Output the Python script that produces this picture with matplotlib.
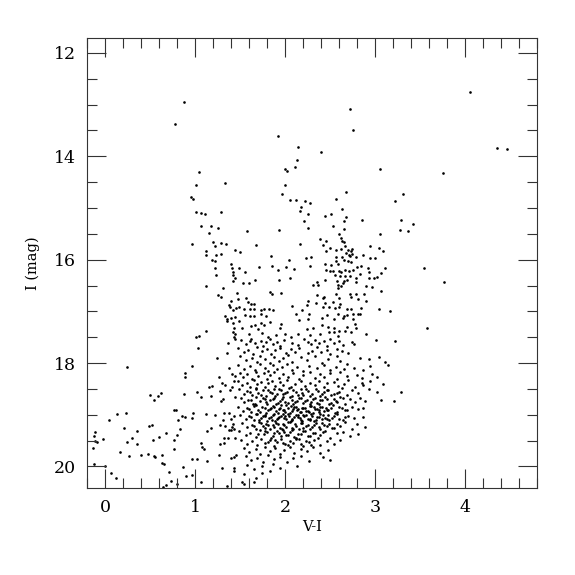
import matplotlib
matplotlib.use("Agg")
import matplotlib.pyplot as plt
from matplotlib.ticker import MultipleLocator
import numpy as np

plt.rcParams['font.family'] = ['DejaVu Serif']

# ---- sparse / bright stars ----
bright_x = [0.874, 0.774, 1.045, 1.004, 1.327, 2.722, 2.756, 1.922, 2.138, 2.393, 2.13, 2.108, 1.993, 2.019,
            3.049, 2.0, 4.056, 4.352, 4.463, 3.756, 3.311, 3.222, 3.289, 3.426, 3.271, 3.367, 3.544, 3.767,
            3.167, 3.574, 3.222, 3.148, 3.282, 3.208]
bright_y = [12.94, 13.38, 14.30, 14.55, 14.52, 13.08, 13.50, 13.61, 13.82, 13.91, 14.07, 14.20, 14.25, 14.28,
            14.25, 14.55, 12.75, 13.83, 13.85, 14.32, 14.73, 14.87, 15.23, 15.31, 15.43, 15.45, 16.17, 16.43,
            16.99, 17.32, 17.57, 18.03, 18.56, 18.74]

# ---- blue branch (x 0.9 - 1.46, I 14.8 - 17.5) ----
blue_x = [0.949, 0.974, 1.008, 1.063, 1.104, 1.286, 1.067, 1.174, 1.256, 1.152, 0.967, 1.2, 1.219, 1.286, 1.345,
          1.437, 1.122, 1.119, 1.233, 1.282, 1.185, 1.219, 1.393, 1.215, 1.404, 1.415, 1.233, 1.422, 1.437, 1.415,
          1.115, 1.304, 1.46, 1.248, 1.286, 1.397, 1.378, 1.382, 1.456, 1.419, 1.333, 1.444, 1.356, 1.4, 1.352,
          1.415, 1.43, 1.419, 1.441, 1.122, 1.037, 1.011, 1.43]
blue_y = [14.79, 14.82, 15.08, 15.09, 15.11, 15.08, 15.34, 15.35, 15.38, 15.48, 15.70, 15.65, 15.74, 15.68, 15.70,
          15.82, 15.83, 15.90, 15.90, 15.89, 16.0, 16.02, 16.08, 16.17, 16.17, 16.23, 16.30, 16.30, 16.35, 16.41,
          16.50, 16.55, 16.64, 16.68, 16.73, 16.79, 16.87, 16.92, 16.93, 16.97, 17.09, 17.10, 17.14, 17.13, 17.19,
          17.23, 17.32, 17.39, 17.44, 17.37, 17.47, 17.50, 17.50]

# ---- giant branch region (x 1.46 - 3.13, I 14.7 - 17.5) ----
giant_x = [1.967, 2.674, 2.052, 2.119, 2.219, 2.271, 2.563, 2.174, 2.167, 2.633, 2.249, 2.504, 2.444, 2.674, 2.652,
           2.856, 2.208, 2.533, 2.256, 1.93, 1.578, 2.652, 2.6, 3.056, 2.386, 2.448, 2.616, 2.633, 2.649, 2.422,
           2.167, 1.674, 2.667, 2.56, 2.5, 2.619, 2.697, 2.744, 2.948, 3.041, 3.082, 1.493, 2.452, 2.73, 2.678,
           2.708, 2.744, 2.722, 2.863, 1.844, 2.563, 2.63, 2.786, 2.941, 2.997, 2.226, 2.282, 2.037, 2.56, 2.649,
           2.697, 2.73, 2.586, 2.504, 2.444, 2.841, 2.8, 2.271, 1.852, 1.711, 1.486, 1.922, 2.093, 2.008, 1.548,
           2.915, 3.104, 2.448, 2.5, 2.533, 2.593, 2.616, 2.667, 2.711, 2.749, 2.926, 3.063, 2.549, 2.611, 2.66,
           2.719, 2.789, 2.83, 2.93, 2.982, 3.022, 1.659, 1.93, 2.056, 2.437, 2.578, 2.649, 2.685, 2.782, 1.533,
           1.593, 2.311, 2.352, 2.363, 2.589, 2.622, 2.641, 2.897, 2.967, 2.582, 3.063, 1.833, 1.848, 1.948, 2.567,
           2.356, 2.719, 2.789, 2.874, 2.433, 2.419, 2.6, 2.73, 2.804, 1.478, 1.559, 2.249, 2.893, 1.589, 1.656,
           1.615, 2.344, 2.444, 2.53, 2.608, 2.241, 2.074, 1.486, 1.544, 1.607, 1.648, 1.733, 1.767, 1.815, 1.863,
           2.182, 2.422, 2.482, 2.552, 2.597, 2.682, 2.73, 2.837, 3.037, 1.733, 2.122, 1.556, 1.607, 1.656, 1.789,
           2.267, 2.467, 2.586, 2.656, 2.689, 2.756, 2.807, 2.833, 2.407, 2.637, 2.152, 2.252, 2.537, 2.752, 1.489,
           1.826, 1.733, 2.771, 1.619, 1.667, 1.767, 1.948, 2.407, 2.478, 2.541, 1.519, 1.697, 1.937, 2.245, 2.311,
           2.689, 2.786, 2.6, 2.66, 2.733, 1.597, 1.737, 1.897, 1.997, 2.138, 2.271, 2.382, 2.486, 2.545, 2.9,
           2.067, 2.582, 1.804]
giant_y = [14.72, 14.69, 14.85, 14.85, 14.86, 14.90, 14.83, 14.99, 15.06, 15.01, 15.12, 15.11, 15.16, 15.18, 15.25,
           15.23, 15.25, 15.34, 15.39, 15.43, 15.45, 15.41, 15.50, 15.51, 15.60, 15.63, 15.58, 15.63, 15.66, 15.71,
           15.70, 15.72, 15.74, 15.81, 15.77, 15.80, 15.81, 15.79, 15.74, 15.78, 15.83, 15.86, 15.84, 15.84, 15.88,
           15.90, 15.89, 15.92, 15.90, 15.92, 15.95, 15.94, 15.94, 15.97, 15.96, 15.96, 15.95, 16.01, 16.03, 16.0,
           16.02, 16.05, 16.08, 16.10, 16.09, 16.12, 16.14, 16.13, 16.13, 16.14, 16.16, 16.20, 16.18, 16.14, 16.23,
           16.17, 16.17, 16.19, 16.21, 16.21, 16.21, 16.23, 16.20, 16.22, 16.19, 16.23, 16.25, 16.30, 16.31, 16.31,
           16.31, 16.35, 16.28, 16.35, 16.35, 16.33, 16.39, 16.40, 16.35, 16.39, 16.41, 16.42, 16.39, 16.43, 16.46,
           16.46, 16.48, 16.44, 16.49, 16.48, 16.50, 16.45, 16.50, 16.52, 16.55, 16.60, 16.63, 16.66, 16.64, 16.67,
           16.68, 16.66, 16.66, 16.66, 16.72, 16.75, 16.74, 16.72, 16.76, 16.76, 16.74, 16.79, 16.79, 16.82, 16.86,
           16.86, 16.84, 16.83, 16.81, 16.86, 16.87, 16.90, 16.92, 16.96, 16.96, 16.96, 16.97, 16.96, 16.96, 16.97,
           16.97, 16.92, 16.92, 16.93, 16.91, 16.95, 16.95, 16.93, 16.96, 17.05, 17.06, 17.07, 17.08, 17.08, 17.08,
           17.05, 17.07, 17.05, 17.08, 17.07, 17.06, 17.06, 17.05, 17.13, 17.13, 17.16, 17.15, 17.15, 17.15, 17.19,
           17.21, 17.23, 17.24, 17.28, 17.26, 17.27, 17.24, 17.26, 17.31, 17.33, 17.32, 17.34, 17.32, 17.35, 17.33,
           17.30, 17.32, 17.37, 17.37, 17.40, 17.43, 17.42, 17.45, 17.43, 17.43, 17.45, 17.43, 17.39, 17.39, 17.44,
           17.50, 17.48, 17.49]

# ---- faint blue side (x < 1.46, I > 17.5) ----
faint_x = [1.367, 1.444, 1.03, 1.348, 1.237, 0.241, 0.96, 1.378, 0.886, 0.882, 1.411, 1.437, 1.267, 1.293, 1.327,
           1.433, 1.182, 1.148, 1.407, 1.389, 1.274, 1.015, 0.615, 0.871, 0.497, 0.589, 1.06, 1.171, 1.437, 1.304,
           1.282, 0.537, 0.767, 0.782, 0.234, 0.126, 0.974, 1.119, 1.219, 1.315, 1.371, 1.43, 0.848, 0.882, 0.044,
           0.96, 0.811, 1.308, 1.4, 1.415, 1.411, 0.522, 0.489, 1.274, 1.33, 1.371, 1.393, 1.433, 0.204, 0.826,
           1.178, 0.348, -0.114, -0.129, 1.13, 0.678, 0.8, 0.297, 0.6, 1.319, 1.359, 1.441, -0.026, 0.533, 0.767,
           -0.111, -0.092, 0.241, 1.063, 1.271, 1.322, 0.348, 1.074, 1.093, 0.763, -0.133, 0.16, 0.263, 0.393,
           0.474, 0.541, 0.548, 0.626, 1.26, 1.452, 1.433, 0.967, 1.015, 1.133, 1.4, 0.63, 0.652, -0.129, -0.007,
           0.863, 1.293, 1.426, 1.426, 0.704, 0.067, 0.893, 0.963, 0.115, 0.733, 1.067, 0.797, 0.671, 0.641, 1.356]
faint_y = [17.61, 17.54, 17.70, 17.81, 17.91, 18.07, 18.06, 18.10, 18.19, 18.27, 18.22, 18.25, 18.27, 18.38, 18.42,
           18.35, 18.44, 18.47, 18.47, 18.52, 18.54, 18.55, 18.57, 18.59, 18.61, 18.63, 18.65, 18.64, 18.65, 18.70,
           18.74, 18.72, 18.90, 18.91, 18.96, 18.98, 18.97, 18.98, 19.01, 18.97, 18.97, 19.03, 19.02, 19.04, 19.10,
           19.06, 19.10, 19.10, 19.08, 19.17, 19.23, 19.19, 19.22, 19.19, 19.22, 19.29, 19.30, 19.28, 19.26, 19.28,
           19.26, 19.32, 19.34, 19.41, 19.32, 19.35, 19.39, 19.44, 19.43, 19.45, 19.45, 19.45, 19.47, 19.48, 19.48,
           19.50, 19.52, 19.52, 19.55, 19.57, 19.54, 19.57, 19.62, 19.66, 19.66, 19.64, 19.72, 19.79, 19.77,
           19.75, 19.80, 19.82, 19.78, 19.77, 19.77, 19.82, 19.85, 19.86, 19.90, 19.84, 19.93, 19.95, 19.96, 19.99,
           20.01, 20.03, 20.03, 20.08, 20.10, 20.12, 20.19, 20.17, 20.23, 20.28, 20.30, 20.34, 20.36, 20.39, 20.37]

# ---- dense core (x 1.46 - 3.13, I 17.5 - 20.4), read band by band ----
core_x = [
    1.507, 1.567, 1.604, 1.619, 1.667, 1.730, 1.752, 1.789, 1.833, 1.863, 1.907, 1.944, 1.981, 2.074, 2.137, 2.204,
    2.248, 2.285, 2.326, 2.370, 2.426, 2.463, 2.493, 2.537, 2.593, 2.641, 2.741, 2.767, 3.011,
    1.48, 1.54, 1.59, 1.64, 1.69, 1.74, 1.80, 1.84, 1.89, 1.94, 2.01, 2.06, 2.11, 2.15, 2.25, 2.30, 2.35, 2.40,
    2.46, 2.50, 2.57, 2.63, 2.70,
    1.50, 1.56, 1.63, 1.69, 1.72, 1.78, 1.83, 1.87, 1.93, 1.98, 2.03, 2.07, 2.17, 2.24, 2.33, 2.41, 2.48, 2.57,
    2.61, 2.83, 2.93, 3.04, 3.11,
    1.48, 1.54, 1.61, 1.66, 1.72, 1.77, 1.81, 1.86, 1.91, 1.96, 2.02, 2.07, 2.13, 2.20, 2.26, 2.35, 2.43, 2.50,
    2.56, 2.65, 2.69, 2.76, 2.87, 2.94,
    1.50, 1.53, 1.57, 1.63, 1.67, 1.70, 1.76, 1.80, 1.83, 1.88, 1.93, 1.98, 2.03, 2.09, 2.15, 2.20, 2.27, 2.33,
    2.39, 2.43, 2.50, 2.57, 2.61, 2.69, 2.80, 2.85, 2.96, 3.02,
    1.48, 1.52, 1.57, 1.61, 1.65, 1.69, 1.73, 1.78, 1.81, 1.85, 1.89, 1.94, 1.98, 2.02, 2.06, 2.11, 2.17, 2.22,
    2.28, 2.33, 2.38, 2.43, 2.46, 2.54, 2.59, 2.65, 2.70, 2.78, 2.85, 2.87, 2.94, 3.09,
    1.49, 1.54, 1.58, 1.63, 1.67, 1.70, 1.75, 1.79, 1.83, 1.87, 1.91, 1.95, 2.00, 2.04, 2.07, 2.12, 2.17, 2.20,
    2.25, 2.30, 2.34, 2.39, 2.43, 2.48, 2.54, 2.57, 2.63, 2.69, 2.74, 2.81, 2.93, 3.02,
    1.61, 1.68, 1.73, 1.81, 1.85, 1.89, 1.93, 1.97, 2.02, 2.09, 2.14, 2.19, 2.23, 2.28, 2.36, 2.41, 2.46, 2.51, 2.60,
    1.51, 1.54, 1.59, 1.64, 1.68, 1.72, 1.77, 1.80, 1.83, 1.88, 1.92, 1.96, 2.00, 2.05, 2.09, 2.13, 2.17, 2.20,
    2.24, 2.29, 2.33, 2.37, 2.41, 2.46, 2.51, 2.56, 2.61, 2.67, 2.72, 2.78, 2.83, 2.89, 3.06,
    1.62, 1.66, 1.75, 1.79, 1.86, 1.90, 1.94, 1.98, 2.03, 2.07, 2.11, 2.15, 2.22, 2.27, 2.31, 2.35, 2.39, 2.44,
    2.49, 2.54, 2.58, 2.64,
    1.48, 1.53, 1.57, 1.62, 1.67, 1.70, 1.74, 1.79, 1.83, 1.86, 1.90, 1.94, 1.97, 2.01, 2.05, 2.09, 2.12, 2.16,
    2.20, 2.23, 2.27, 2.31, 2.35, 2.39, 2.43, 2.48, 2.53, 2.57, 2.63, 2.69, 2.74, 2.81, 2.87,
    1.60, 1.65, 1.72, 1.77, 1.81, 1.88, 1.92, 1.95, 1.99, 2.03, 2.07, 2.10, 2.14, 2.18, 2.22, 2.25, 2.29, 2.33,
    2.37, 2.41, 2.46, 2.51, 2.55, 2.60, 2.66,
    1.84, 1.93, 2.00, 2.06, 2.13, 2.19, 2.26, 2.32, 2.38, 2.45,
    1.50, 1.56, 1.60, 1.65, 1.69, 1.73, 1.77, 1.80, 1.84, 1.88, 1.91, 1.95, 1.99, 2.03, 2.06, 2.10, 2.14, 2.17,
    2.21, 2.25, 2.29, 2.32, 2.37, 2.42, 2.46, 2.52, 2.57, 2.64, 2.70, 2.76, 2.86,
    1.62, 1.67, 1.71, 1.75, 1.82, 1.86, 1.89, 1.93, 1.97, 2.01, 2.04, 2.08, 2.12, 2.16, 2.19, 2.23, 2.27, 2.30,
    2.34, 2.39, 2.44, 2.49, 2.54, 2.60, 2.67,
    1.78, 1.85, 1.92, 2.00, 2.07, 2.14, 2.20, 2.28, 2.35, 2.41, 2.47,
    1.52, 1.57, 1.63, 1.68, 1.71, 1.75, 1.79, 1.83, 1.86, 1.90, 1.94, 1.97, 2.01, 2.05, 2.09, 2.12, 2.17, 2.20,
    2.25, 2.30, 2.34, 2.39, 2.43, 2.49, 2.54, 2.61, 2.67, 2.74, 2.80, 2.89,
    1.65, 1.73, 1.77, 1.81, 1.88, 1.92, 1.96, 1.99, 2.03, 2.07, 2.11, 2.15, 2.19, 2.23, 2.27, 2.32, 2.37, 2.41,
    2.46, 2.52, 2.57,
    1.49, 1.56, 1.61, 1.67, 1.72, 1.76, 1.80, 1.84, 1.88, 1.91, 1.95, 1.99, 2.03, 2.07, 2.12, 2.17, 2.22, 2.28,
    2.33, 2.39, 2.44, 2.50, 2.57, 2.64, 2.72, 2.81,
    1.70, 1.78, 1.86, 1.93, 1.97, 2.01, 2.05, 2.10, 2.14, 2.20, 2.25, 2.31, 2.36, 2.42,
    1.51, 1.57, 1.63, 1.69, 1.73, 1.78, 1.83, 1.87, 1.91, 1.95, 2.00, 2.05, 2.09, 2.15, 2.20, 2.26, 2.32, 2.39,
    2.46, 2.54, 2.61,
    1.81, 1.89, 1.98, 2.03, 2.12, 2.18, 2.23, 2.29,
    1.54, 1.60, 1.67, 1.72, 1.78, 1.83, 1.89, 1.94, 1.99, 2.05, 2.10, 2.17, 2.24, 2.31, 2.39, 2.48,
    1.56, 1.62, 1.69, 1.75, 1.81, 1.88, 1.94, 2.02, 2.09, 2.17, 2.26, 2.42, 2.50,
    1.57, 1.65, 1.74, 1.83, 1.86, 1.94, 2.13,
    1.54, 1.67, 1.74,
    1.52, 1.54, 1.65]
core_y = [
    17.55, 17.64, 17.58, 17.53, 17.62, 17.57, 17.66, 17.60, 17.54, 17.63, 17.59, 17.67, 17.56, 17.61, 17.65, 17.53,
    17.60, 17.64, 17.55, 17.62, 17.58, 17.66, 17.54, 17.61, 17.57, 17.65, 17.59, 17.63, 17.56,
    17.71, 17.79, 17.74, 17.82, 17.69, 17.77, 17.72, 17.83, 17.75, 17.70, 17.80, 17.73, 17.78, 17.71, 17.81, 17.76,
    17.69, 17.79, 17.74, 17.82, 17.72, 17.77, 17.80,
    17.87, 17.95, 17.90, 17.98, 17.86, 17.93, 17.99, 17.88, 17.96, 17.91, 17.85, 17.97, 17.89, 17.94, 17.87, 17.99,
    17.92, 17.86, 17.96, 17.90, 17.93, 17.88, 17.97,
    18.03, 18.11, 18.06, 18.14, 18.01, 18.09, 18.15, 18.04, 18.12, 18.07, 18.02, 18.13, 18.08, 18.15, 18.05, 18.10,
    18.03, 18.14, 18.07, 18.11, 18.02, 18.09, 18.13, 18.05,
    18.19, 18.27, 18.22, 18.30, 18.17, 18.25, 18.20, 18.31, 18.23, 18.18, 18.28, 18.21, 18.26, 18.19, 18.30, 18.24,
    18.17, 18.29, 18.22, 18.27, 18.20, 18.31, 18.18, 18.25, 18.23, 18.29, 18.21, 18.26,
    18.35, 18.43, 18.38, 18.46, 18.33, 18.41, 18.36, 18.47, 18.39, 18.34, 18.44, 18.37, 18.42, 18.33, 18.46, 18.40,
    18.35, 18.45, 18.38, 18.43, 18.34, 18.47, 18.39, 18.36, 18.44, 18.41, 18.33, 18.46, 18.38, 18.42, 18.35, 18.40,
    18.51, 18.59, 18.54, 18.62, 18.49, 18.57, 18.52, 18.63, 18.55, 18.50, 18.60, 18.53, 18.58, 18.49, 18.64, 18.56,
    18.51, 18.61, 18.54, 18.59, 18.50, 18.63, 18.55, 18.52, 18.60, 18.57, 18.49, 18.62, 18.53, 18.58, 18.51, 18.56,
    18.56, 18.50, 18.61, 18.53, 18.58, 18.64, 18.51, 18.60, 18.55, 18.52, 18.62, 18.57, 18.50, 18.63, 18.54, 18.59,
    18.52, 18.61, 18.55,
    18.68, 18.76, 18.71, 18.79, 18.66, 18.74, 18.69, 18.80, 18.72, 18.67, 18.77, 18.70, 18.75, 18.66, 18.80, 18.73,
    18.68, 18.78, 18.71, 18.76, 18.67, 18.80, 18.72, 18.69, 18.77, 18.74, 18.66, 18.79, 18.70, 18.75, 18.68, 18.73,
    18.71,
    18.72, 18.79, 18.67, 18.75, 18.70, 18.80, 18.73, 18.66, 18.78, 18.71, 18.76, 18.68, 18.74, 18.79, 18.69, 18.77,
    18.72, 18.66, 18.80, 18.70, 18.75, 18.68,
    18.84, 18.92, 18.87, 18.95, 18.82, 18.90, 18.85, 18.96, 18.88, 18.83, 18.93, 18.86, 18.91, 18.82, 18.96, 18.89,
    18.84, 18.94, 18.87, 18.92, 18.83, 18.96, 18.88, 18.85, 18.93, 18.90, 18.82, 18.95, 18.86, 18.91, 18.84, 18.89,
    18.87,
    18.89, 18.83, 18.94, 18.87, 18.91, 18.85, 18.96, 18.82, 18.90, 18.87, 18.93, 18.84, 18.89, 18.95, 18.86, 18.92,
    18.83, 18.88, 18.94, 18.85, 18.91, 18.87, 18.96, 18.84, 18.90,
    18.86, 18.88, 18.94, 18.83, 18.91, 18.87, 18.95, 18.84, 18.90, 18.86,
    19.00, 19.08, 19.03, 19.11, 18.98, 19.06, 19.01, 19.12, 19.04, 18.99, 19.09, 19.02, 19.07, 18.98, 19.12, 19.05,
    19.00, 19.10, 19.03, 19.08, 18.99, 19.12, 19.04, 19.01, 19.09, 19.06, 18.98, 19.11, 19.02, 19.07, 19.05,
    19.05, 18.99, 19.10, 19.03, 19.07, 19.01, 19.12, 19.04, 18.98, 19.09, 19.02, 19.11, 19.00, 19.06, 19.12, 19.01,
    19.08, 19.03, 19.10, 18.99, 19.06, 19.11, 19.02, 19.08, 19.04,
    19.02, 19.10, 19.06, 19.03, 19.09, 19.05, 19.00, 19.11, 19.04, 19.08, 19.01,
    19.16, 19.24, 19.19, 19.27, 19.14, 19.22, 19.17, 19.28, 19.20, 19.15, 19.25, 19.18, 19.23, 19.14, 19.28, 19.21,
    19.16, 19.26, 19.19, 19.24, 19.15, 19.28, 19.20, 19.17, 19.25, 19.22, 19.14, 19.27, 19.18, 19.23,
    19.21, 19.15, 19.26, 19.19, 19.23, 19.17, 19.28, 19.20, 19.14, 19.25, 19.18, 19.27, 19.16, 19.22, 19.28, 19.19,
    19.24, 19.15, 19.21, 19.26, 19.18,
    19.32, 19.40, 19.35, 19.43, 19.30, 19.38, 19.33, 19.44, 19.36, 19.31, 19.41, 19.34, 19.39, 19.30, 19.44, 19.37,
    19.32, 19.42, 19.35, 19.40, 19.31, 19.44, 19.36, 19.33, 19.41, 19.38,
    19.37, 19.31, 19.42, 19.35, 19.30, 19.40, 19.34, 19.43, 19.38, 19.32, 19.41, 19.36, 19.44, 19.33,
    19.48, 19.56, 19.51, 19.59, 19.46, 19.54, 19.49, 19.60, 19.52, 19.47, 19.57, 19.50, 19.55, 19.46, 19.60, 19.53,
    19.48, 19.58, 19.51, 19.56, 19.49,
    19.53, 19.48, 19.55, 19.59, 19.47, 19.56, 19.51, 19.58,
    19.64, 19.72, 19.67, 19.75, 19.62, 19.70, 19.65, 19.76, 19.68, 19.63, 19.73, 19.66, 19.71, 19.62, 19.74, 19.69,
    19.80, 19.88, 19.83, 19.91, 19.78, 19.86, 19.81, 19.92, 19.84, 19.79, 19.89, 19.82, 19.87,
    19.97, 20.05, 20.00, 20.08, 19.96, 20.03, 19.99,
    20.15, 20.22, 20.12,
    20.30, 20.34, 20.31]

xs = np.array(bright_x + blue_x + giant_x + faint_x + core_x)
ys = np.array(bright_y + blue_y + giant_y + faint_y + core_y)

fig = plt.figure(figsize=(5.75, 5.75), dpi=100)
ax = fig.add_axes([0.152, 0.151, 0.782, 0.783])
ax.scatter(xs, ys, s=3.6, c='black', marker='o', linewidths=0)

ax.set_xlim(-0.2, 4.8)
ax.set_ylim(20.42, 11.71)
ax.xaxis.set_major_locator(MultipleLocator(1))
ax.xaxis.set_minor_locator(MultipleLocator(0.2))
ax.yaxis.set_major_locator(MultipleLocator(2))
ax.yaxis.set_minor_locator(MultipleLocator(0.5))
ax.tick_params(which='both', direction='in', top=True, right=True, width=0.8, color='#333333')
ax.tick_params(which='major', length=14, labelsize=12.5, pad=8)
ax.tick_params(which='minor', length=7)
for sp in ax.spines.values():
    sp.set_linewidth(0.8)
    sp.set_color('#333333')

ax.set_xlabel('V-I', fontsize=10.5, labelpad=3)
ax.set_ylabel('I (mag)', fontsize=10.5, labelpad=10)

fig.savefig('out.png', dpi=100)
